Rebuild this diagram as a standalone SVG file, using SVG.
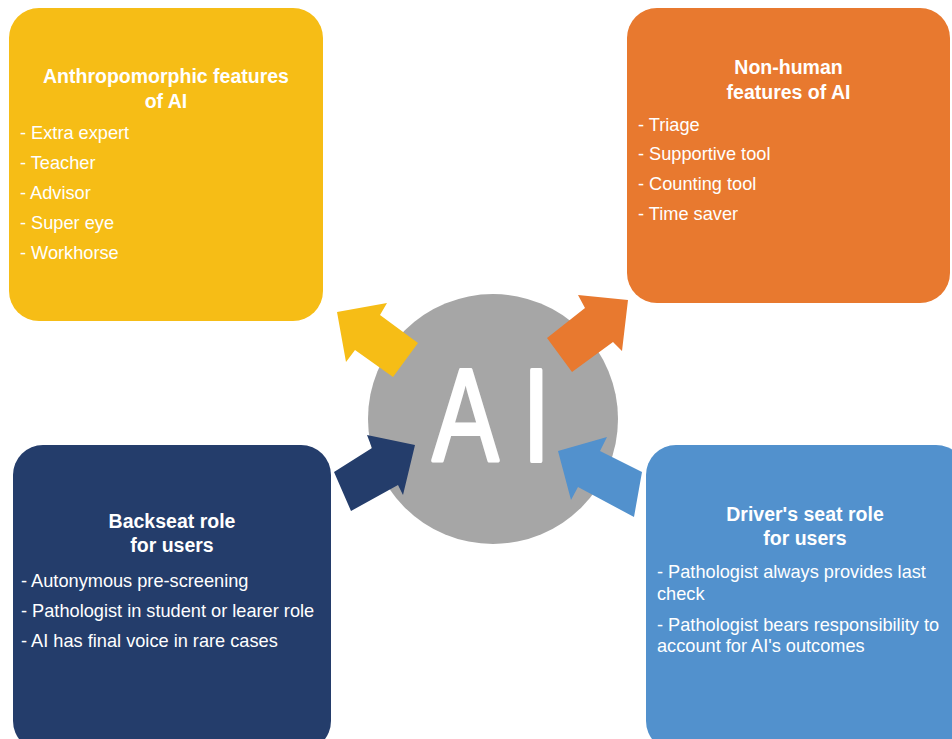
<svg xmlns="http://www.w3.org/2000/svg" width="952" height="739" viewBox="0 0 952 739">
<style>
.title{font-family:"Liberation Sans",Arial,sans-serif;font-weight:bold;font-size:19.5px;fill:#fff;text-anchor:middle}
.item{font-family:"Liberation Sans",Arial,sans-serif;font-size:18.2px;fill:#fff}
.ai{font-family:"Liberation Sans",Arial,sans-serif;font-size:132px;fill:#fff;stroke:#fff;stroke-width:4;stroke-linejoin:round}
</style>
<rect width="952" height="739" fill="#fff"/>
<g id="ai-core">
<circle cx="493" cy="419" r="125" fill="#A6A6A6"/>
<text class="ai" transform="translate(432.5 461) scale(0.75 1)"><tspan x="0">A</tspan><tspan x="120">I</tspan></text>
</g>
<g id="connectors">
<polygon fill="#F6BD16" points="337,312 387,303 380,315 418,343 393,377 355,350 346,362"/>
<polygon fill="#E8792F" points="628,300 578,295 585,308 547,338 572,372 613,342 622,351"/>
<polygon fill="#243D6B" points="415,445 367,435 372,448 334,472 351,511 398,485 403,495"/>
<polygon fill="#5291CD" points="558,451 607,437 600,451 642,472 634,517 578,487 571,500"/>
</g>
<g id="anthropomorphic">
<rect x="9" y="8" width="314" height="313" rx="30" fill="#F6BD16"/>
<text class="title" x="166" y="83">Anthropomorphic features</text>
<text class="title" x="166" y="107.5">of AI</text>
<text class="item" x="20" y="139">- Extra expert</text>
<text class="item" x="20" y="169">- Teacher</text>
<text class="item" x="20" y="199">- Advisor</text>
<text class="item" x="20" y="229">- Super eye</text>
<text class="item" x="20" y="259">- Workhorse</text>
</g>
<g id="non-human">
<rect x="627" y="8" width="323" height="295" rx="30" fill="#E8792F"/>
<text class="title" x="788.5" y="73.5">Non-human</text>
<text class="title" x="788.5" y="98.5">features of AI</text>
<text class="item" x="638" y="130.5">- Triage</text>
<text class="item" x="638" y="160">- Supportive tool</text>
<text class="item" x="638" y="190">- Counting tool</text>
<text class="item" x="638" y="220">- Time saver</text>
</g>
<g id="backseat">
<rect x="13" y="445" width="318" height="306" rx="30" fill="#243D6B"/>
<text class="title" x="172" y="527.5">Backseat role</text>
<text class="title" x="172" y="552">for users</text>
<text class="item" x="21" y="587">- Autonymous pre-screening</text>
<text class="item" x="21" y="617">- Pathologist in student or learer role</text>
<text class="item" x="21" y="647">- AI has final voice in rare cases</text>
</g>
<g id="drivers-seat">
<rect x="646" y="445" width="320" height="306" rx="30" fill="#5291CD"/>
<text class="title" x="805" y="521">Driver's seat role</text>
<text class="title" x="805" y="544.5">for users</text>
<text class="item" x="657" y="578">- Pathologist always provides last</text>
<text class="item" x="657" y="599.5">check</text>
<text class="item" x="657" y="630.5">- Pathologist bears responsibility to</text>
<text class="item" x="657" y="651.5">account for AI's outcomes</text>
</g>
</svg>
